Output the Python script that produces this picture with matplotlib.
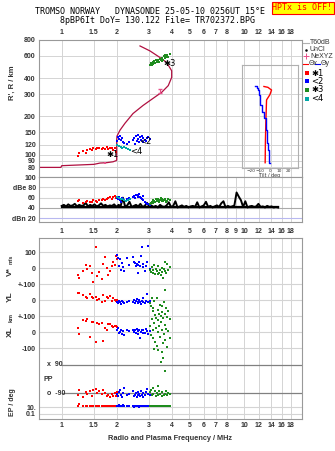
"""Ionogramme Dynasonde: profil, amplitudes et parametres d'echo."""

import numpy as np
import matplotlib
matplotlib.use("Agg")
import matplotlib.pyplot as plt
from matplotlib.lines import Line2D
from matplotlib.patches import Rectangle
from matplotlib import ticker

W, H = 335, 451

# --- axes de frequence ---
top_ticks = [1, 1.5, 2, 3, 4, 5, 6, 7, 8, 10, 12, 14, 16, 18]
mid_ticks = [1, 1.5, 2, 3, 4, 5, 6, 7, 8, 9, 10, 12, 14, 16, 18]
height_ticks = [80, 90, 100, 120, 150, 200, 300, 400, 600, 800]

# --- profil de densite (frequence plasma / hauteur reelle) ---
profile_f = [0.754, 0.99, 1.0, 1.5, 1.62, 1.75, 1.91, 1.99, 2.0, 2.0, 2.007, 2.085, 2.221, 2.457,
             2.786, 3.043, 3.527, 3.832, 4.0, 4.0, 3.755, 3.452, 3.043, 2.683]
profile_h = [79.5, 79.5, 82, 84, 86, 86.5, 88, 90, 91, 130, 140, 156, 177, 211,
             244, 267, 310, 350, 406, 458, 532, 582, 656, 718]
nexyz_f = [1.73, 3.47]
nexyz_h = [86.7, 320]

# --- echos par groupe ---
red_f = [1.23, 1.25, 1.31, 1.35, 1.38, 1.42, 1.46, 1.49, 1.54, 1.57, 1.61, 1.66, 1.69, 1.73,
         1.76, 1.80, 1.84, 1.88, 1.92, 1.96, 1.98, 2.01]
red_h = [98, 103, 107, 104, 109, 110, 109, 112, 111, 113, 112, 110, 114, 111, 115, 110, 112,
         114, 108, 112, 106, 119]
red_db = [53, 55, 50, 52, 53, 51, 52, 55, 54, 52, 56, 55, 58, 56, 57, 60, 62, 58, 61, 63, 60, 61]
red_v = [-42, -65, -21, 18, -5, 10, -30, -90, 131, -48, -27, -69, 27, 69, 0, -42, -21, 10, 41,
         21, 77, 56]
red_yl = [42, 46, 30, 21, 10, 37, 21, 15, 21, 0, 5, -10, 31, -5, 21, 15, 25, -4, 10, 0, -8, 3]
red_xl = [27, -14, 77, 69, 83, -31, 63, 60, -63, 56, 52, 54, -56, 27, 10, 50, 52, 35, 30, 40, 35, 30]
red_pp = [-101, -69, -112, -84, -95, -80, -108, -69, -63, -90, -80, -98, -70, -88, -110, -100,
          -112, -95, -110, -90, -108, -85]
red_ep = [30, 70, 25, 20, 30, 22, 18, 25, 20, 28, 22, 18, 25, 20, 22, 18, 24, 20, 18, 22, 20, 25]

blue_f = [2.02, 2.04, 2.06, 2.08, 2.10, 2.13, 2.16, 2.20, 2.28, 2.35, 2.45, 2.50, 2.53, 2.56,
          2.58, 2.61, 2.63, 2.66, 2.68, 2.71, 2.74, 2.77, 2.80, 2.84, 2.88, 2.94, 2.98, 3.03]
blue_h = [128, 138, 134, 141, 130, 135, 127, 124, 121, 126, 130, 136, 122, 140, 128, 133, 144,
          127, 137, 130, 140, 125, 135, 130, 128, 135, 138, 132]
blue_db = [60, 58, 62, 56, 52, 60, 57, 55, 58, 60, 62, 64, 60, 65, 66, 63, 61, 67, 62, 60, 58,
           63, 55, 52, 50, 48, 47, 46]
blue_v = [83, 62, 14, 58, -11, 30, 5, -17, 62, 20, 71, 40, 30, 10, 25, -31, 21, 35, 15, 73, 131,
          28, 5, -20, 12, 40, 135, -5]
blue_yl = [-10, -20, -5, -15, -22, -8, -12, -18, -10, -5, -15, 0, -20, -8, 5, -12, -18, -2, -10,
           -25, -6, -14, 10, -18, -8, 36, -10, -4]
blue_xl = [10, 25, -5, 0, 15, -10, 5, -20, 10, 8, 12, 0, 15, -5, 20, 5, -10, 10, -40, 0, 15, -8,
           12, -3, 20, 5, -15, 8]
blue_pp = [-95, -110, -85, -70, -100, -115, -90, -60, -105, -95, -80, -110, -100, -90, -115, -85,
           -105, -95, -110, -75, -100, -90, -115, -105, -85, -65, -95, -100]
blue_ep = [30, 25, 35, 20, 28, 22, 40, 18, 30, 25, 20, 15, 28, 22, 18, 25, 20, 15, 30, 22, 18,
           25, 20, 28, 22, 18, 25, 20]

green_f = [3.04, 3.08, 3.12, 3.15, 3.18, 3.22, 3.25, 3.28, 3.32, 3.35, 3.38, 3.42, 3.45, 3.48,
           3.52, 3.55, 3.58, 3.62, 3.66, 3.70, 3.74, 3.78, 3.84, 3.90]
green_h = [505, 525, 512, 540, 520, 548, 530, 555, 540, 560, 545, 535, 565, 555, 545, 580, 560,
           595, 575, 612, 590, 605, 585, 620]
green_db = [48, 50, 52, 49, 55, 53, 51, 57, 54, 58, 55, 52, 56, 59, 54, 57, 53, 55, 58, 56, 52,
            54, 57, 55]
green_v = [-10, -25, 5, -30, -15, 20, -40, -5, -20, -35, 10, -28, -12, -45, 0, -22, -60, -8, 35,
           -18, -30, 25, -15, 5]
green_yl = [-20, -37, 15, -52, -69, -5, -94, -110, 10, -125, -60, -85, -30, -100, -75, -40, -115,
            -15, -88, 60, -50, -105, -70, -120]
green_xl = [40, -20, 80, 10, -40, 55, -60, 25, -85, 0, -110, 35, -30, 65, -125, 15, -70, -10, 45,
            -50, 20, -95, 5, -35]
green_pp = [-85, -70, -100, -60, -95, 190, -80, -110, -90, -45, -105, -75, -95, 107, -110, -85,
            134, -100, -95, 52, -80, -105, -90, -98]
green_ep = [25, 30, 22, 28, 25, 20, 30, 25, 22, 28, 24, 30, 25, 22, 28, 25, 30, 22, 25, 28, 24,
            22, 26, 25]

cyan_f = [2.02, 2.06, 2.10, 2.14, 2.20, 2.25, 2.32, 2.38]
cyan_h = [120, 117, 115, 113, 116, 112, 110, 109]
cyan_db = [62, 60, 58, 57, 55, 53, 56, 58]

# --- bruit de fond (dB), balayage de 1 a 15.3 MHz ---
noise_db = [44, 46, 43, 47, 44, 45, 48, 43, 46, 44,
            45, 50, 43, 46, 44, 47, 43, 45, 49, 44,
            46, 43, 45, 44, 47, 42, 46, 44, 60, 43,
            45, 52, 42, 44, 46, 43, 48, 42, 44, 50,
            43, 45, 42, 44, 41, 46, 43, 42, 45, 51,
            42, 44, 53, 41, 43, 45, 42, 44, 41, 43,
            44, 42, 51, 41, 43, 45, 52, 42, 44, 41,
            43, 45, 42, 49, 53, 41, 44, 42, 43, 45,
            70, 62, 55, 42, 53, 41, 43, 44, 42, 43,
            48, 42, 43, 41, 44, 42, 43, 41, 42, 41]
noise_f = np.geomspace(1.0, 15.3, len(noise_db))

# --- inclinaisons (tilt) en fonction de la hauteur ---
tilt_red_h = [86, 130, 187, 267, 293, 319, 335, 340]
tilt_red = [-5, -4.7, -4.2, -3.5, 0, 1.8, -2.1, -6.3]
tilt_blue_h = [86, 109, 123, 156, 193, 215, 243, 293, 319, 331, 343]
tilt_blue = [0, -1.1, -1.8, -3.5, -5.3, -7.4, -9.5, -10.5, -11.6, -12.6, -15.8]

RED, BLUE, GREEN, CYAN = "#ff0000", "#0000ff", "#1e8c1e", "#00a8a8"
PROFILE, PINK = "#b01040", "#e8508a"
GRID, FRAME, TXT = "#d4d4d4", "#999999", "#333333"
TICKFONT = dict(family="Liberation Sans", size=5, weight="bold", color=TXT)


def px_box(x0, y0, x1, y1):
    return [x0 / W, 1 - y1 / H, (x1 - x0) / W, (y1 - y0) / H]


def fig_xy(x, y):
    return x / W, 1 - y / H


def setup_freq_axis(ax, ticks, top=False, pad=3):
    ax.set_xscale("log")
    ax.set_xlim(0.754, 20.6)
    ax.xaxis.set_major_locator(ticker.FixedLocator(ticks))
    ax.xaxis.set_major_formatter(ticker.FixedFormatter([f"{t:g}" for t in ticks]))
    ax.xaxis.set_minor_locator(ticker.NullLocator())
    if top:
        ax.xaxis.set_ticks_position("top")
    ax.tick_params(axis="x", length=0, pad=pad, labelsize=5, labelcolor=TXT)
    for lab in ax.get_xticklabels():
        lab.set_fontfamily("Liberation Sans"); lab.set_fontweight("bold")
    for t in ticks:
        ax.axvline(t, color=GRID, lw=0.7, zorder=0)
    for s in ax.spines.values():
        s.set_color(FRAME); s.set_linewidth(0.8)


def style_yticks(ax):
    ax.tick_params(axis="y", length=0, pad=2.5, labelsize=5, labelcolor=TXT)
    for lab in ax.get_yticklabels():
        lab.set_fontfamily("Liberation Sans"); lab.set_fontweight("bold")


def dots(ax, f, y, color, zorder=3):
    ax.plot(f, y, "s", color=color, ms=1.6, mew=0, ls="none", zorder=zorder)


fig = plt.figure(figsize=(W / 100, H / 100), dpi=100)

# en-tete
mono = dict(family="DejaVu Sans Mono", size=6, color="black", ha="center", va="center")
fig.text(*fig_xy(150, 12), "TROMSO NORWAY   DYNASONDE 25-05-10 0256UT 15°E", **mono)
fig.text(*fig_xy(157.5, 20.5), "8pBP6It DoY= 130.122 File= TR702372.BPG", **mono)
fig.patches.append(Rectangle(fig_xy(271.5, 13.5), 62 / W, 11.5 / H, transform=fig.transFigure,
                             facecolor="#ffff00", edgecolor="#ff0000", lw=0.8))
fig.text(*fig_xy(302.5, 8), "HPTx is OFF!", family="DejaVu Sans Mono", size=6, color="#ff0000",
         ha="center", va="center")

# --- panneau 1 : hauteurs virtuelles et profil ---
ax1 = fig.add_axes(px_box(39.3, 39.5, 301.7, 177))
setup_freq_axis(ax1, top_ticks, top=True, pad=2.5)
ax1.set_yscale("log")
ax1.set_ylim(66.8, 807)
ax1.yaxis.set_major_locator(ticker.FixedLocator(height_ticks))
ax1.yaxis.set_major_formatter(ticker.FixedFormatter([str(h) for h in height_ticks]))
ax1.yaxis.set_minor_locator(ticker.NullLocator())
style_yticks(ax1)
for h in height_ticks:
    ax1.axhline(h, color=GRID, lw=0.7, zorder=0)
ax1.plot(profile_f, profile_h, color=PROFILE, lw=0.9, zorder=2)
ax1.errorbar(nexyz_f[1:], nexyz_h[1:], yerr=[[12], [12]], fmt="none", ecolor=PINK, lw=0.8,
             capsize=1.5, zorder=3)
ax1.plot(nexyz_f[:1], nexyz_h[:1], "s", color=PINK, ms=2, mew=0, zorder=3)
dots(ax1, red_f, red_h, RED)
dots(ax1, blue_f, blue_h, BLUE)
dots(ax1, cyan_f, cyan_h, CYAN)
dots(ax1, green_f, green_h, GREEN)
for f, h, s in [(1.76, 101, "✱1"), (2.37, 106, "<4"), (2.65, 128, "<2"), (3.62, 522, "✱3")]:
    ax1.text(f, h, s, fontsize=6, color="black", ha="left", va="center", zorder=4)
fig.text(*fig_xy(12, 83), "R', R / km", rotation=90, ha="center", va="center",
         family="Liberation Sans", size=5.5, weight="bold", color=TXT)

# encart inclinaison
axi = fig.add_axes(px_box(241.7, 65, 298, 167.7))
axi.patch.set_alpha(0)
axi.set_xlim(-30, 30)
axi.set_yscale("log")
axi.set_ylim(78.6, 501)
axi.yaxis.set_major_locator(ticker.NullLocator())
axi.yaxis.set_minor_locator(ticker.NullLocator())
axi.set_xticks([-20, -10, 0, 10, 20])
axi.tick_params(axis="x", length=0, pad=0.8, labelsize=3.1, labelcolor=TXT)
axi.set_xlabel("Tilt / deg", fontsize=3.4, color=TXT, labelpad=0)
for s in axi.spines.values():
    s.set_color("#b0b0b0"); s.set_linewidth(0.8)
axi.plot(tilt_red, tilt_red_h, color=RED, lw=1.0)
axi.plot(tilt_blue, tilt_blue_h, color=BLUE, lw=1.0, drawstyle="steps-mid")

# legende a droite
leg_font = dict(family="Liberation Sans", size=5, color=TXT, va="center")
fig.add_artist(Line2D([303 / W, 309 / W], [1 - 43 / H] * 2, color="#b0b0b0", lw=0.8))
fig.text(*fig_xy(310, 43), "T60dB", **leg_font)
fig.add_artist(Line2D([306 / W], [1 - 49.5 / H], marker="o", ms=0.8, color="black"))
fig.text(*fig_xy(310, 49.5), "UnCl", **leg_font)
fig.add_artist(Line2D([306 / W], [1 - 56 / H], marker="+", ms=4, mew=0.7, color=PINK))
fig.text(*fig_xy(310, 56), "NeXYZ", **leg_font)
fig.add_artist(Line2D([303 / W, 308 / W], [1 - 63.5 / H] * 2, color=RED, lw=0.8))
fig.text(*fig_xy(309, 63.5), "Θx", **leg_font)
fig.add_artist(Line2D([315 / W, 320 / W], [1 - 63.5 / H] * 2, color=BLUE, lw=0.8))
fig.text(*fig_xy(321, 63.5), "Θy", **leg_font)
for y, c, s in [(73, RED, "✱1"), (81, BLUE, "<2"), (90, GREEN, "✱3"), (98.5, CYAN, "<4")]:
    fig.add_artist(Line2D([306.5 / W], [1 - y / H], marker="s", ms=2.2, mew=0, color=c))
    fig.text(*fig_xy(311, y), s, family="DejaVu Sans", size=6, color="black", va="center")

# --- panneau 2 : amplitudes ---
ax2 = fig.add_axes(px_box(39.3, 177, 301.7, 222))
setup_freq_axis(ax2, mid_ticks, pad=4)
ax2.set_ylim(12.8, 100)
ax2.set_yticks([20, 40, 60, 80, 100])
ax2.set_yticklabels(["dBn 20", "40", "60", "dBe 80", "100"])
style_yticks(ax2)
for lvl, col in [(40, "#aaaaaa"), (60, GRID), (80, GRID), (20, "#b8b8f0")]:
    ax2.axhline(lvl, color=col, lw=0.8, zorder=0)
ax2.plot(noise_f, noise_db, color="black", lw=1.4, zorder=2)
ax2.plot([noise_f[0], noise_f[-1]], [41.5, 41.5], color="black", lw=1.6, zorder=2)
dots(ax2, red_f, red_db, RED)
dots(ax2, blue_f, blue_db, BLUE)
dots(ax2, cyan_f, cyan_db, CYAN)
dots(ax2, green_f, green_db, GREEN)

# --- panneau 3 : V*, YL, XL, PP, EP empiles sur un meme axe ---
V_OFF, YL_OFF, XL_OFF = 0, -200, -400


def pp_y(p):
    return -692.5 + np.asarray(p) * 0.983


def ep_y(e):
    return -890 + 21 * np.log10(e)


ax3 = fig.add_axes(px_box(39.3, 238.3, 301.7, 419))
setup_freq_axis(ax3, top_ticks, pad=2)
ax3.set_ylim(-943, 186)
band_levels = [100, 0, -100, -200, -300, -400, -500]
ytick_pos = band_levels + [float(ep_y(10)), float(ep_y(0.1))]
ax3.set_yticks(ytick_pos)
ax3.set_yticklabels(["100", "0", "+-100", "0", "+-100", "0", "-100", "10.", "0.1"])
style_yticks(ax3)
for lvl in ytick_pos:
    ax3.axhline(lvl, color=GRID, lw=0.8, zorder=0)
for p in (90, -90):
    ax3.plot([1.0, 20.6], [pp_y(p)] * 2, color="#808080", lw=0.9, zorder=1)
tx = ax3.get_yaxis_transform()
ax3.text(0.03, pp_y(90), "x  90", transform=tx, ha="left", va="center", **TICKFONT)
ax3.text(0.03, pp_y(-90), "o  -90", transform=tx, ha="left", va="center", **TICKFONT)
ax3.text(0.015, pp_y(0) - 3, "PP", transform=tx, ha="left", va="center", **TICKFONT)

for f, v, yl, xl, pp, ep, c in [
        (red_f, red_v, red_yl, red_xl, red_pp, red_ep, RED),
        (blue_f, blue_v, blue_yl, blue_xl, blue_pp, blue_ep, BLUE),
        (green_f, green_v, green_yl, green_xl, green_pp, green_ep, GREEN)]:
    dots(ax3, f, np.add(v, V_OFF), c)
    dots(ax3, f, np.add(yl, YL_OFF), c)
    dots(ax3, f, np.add(xl, XL_OFF), c)
    dots(ax3, f, pp_y(pp), c)
    dots(ax3, f, ep_y(ep), c)

lab = dict(family="Liberation Sans", weight="bold", color=TXT, rotation=90, ha="center",
           va="center")
fig.text(*fig_xy(10, 272), "V*", size=6, **lab)
fig.text(*fig_xy(11, 259), "m/s", size=4, **lab)
fig.text(*fig_xy(10, 297), "YL", size=6, **lab)
fig.text(*fig_xy(11, 318), "km", size=4.5, **lab)
fig.text(*fig_xy(10, 332), "XL", size=6, **lab)
fig.text(*fig_xy(12, 402), "EP / deg", size=5, **lab)

fig.text(*fig_xy(170.5, 439), "Radio and Plasma Frequency / MHz", ha="center", va="center",
         family="Liberation Sans", size=5.3, weight="bold", color=TXT)

fig.savefig("out.png", dpi=100)
